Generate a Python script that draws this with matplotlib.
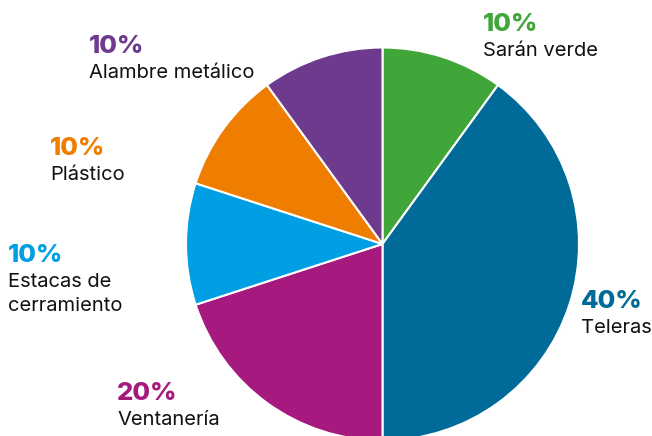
import matplotlib
matplotlib.use("Agg")
import matplotlib.pyplot as plt

labels = ["Sarán verde", "Teleras", "Ventanería", "Estacas de\ncerramiento", "Plástico", "Alambre metálico"]
shares = [10, 40, 20, 10, 10, 10]
colors = ["#41a639", "#006b99", "#a6197f", "#009fe3", "#ef7d00", "#6d3a8e"]

# label anchors in pixels from the top-left corner (left edge, baseline of the percentage)
label_pos = [(483, 31), (581, 308), (117, 400), (8, 262), (50, 155), (89, 53)]

W, H = 652, 436
plt.rcParams['font.family'] = ['Inter', 'DejaVu Sans']

fig = plt.figure(figsize=(W / 100, H / 100), dpi=100)
ax = fig.add_axes([0, 0, 1, 1])

ax.pie(shares, colors=colors, startangle=90, counterclock=False,
       center=(382.5, H - 244), radius=196.5, frame=True,
       wedgeprops=dict(edgecolor='white', linewidth=1.5))
ax.set_xlim(0, W)
ax.set_ylim(0, H)
ax.set_aspect('equal')
ax.axis('off')

for lab, val, col, (x, y) in zip(labels, shares, colors, label_pos):
    ax.text(x, H - y, f"{val}%", color=col, fontsize=18.5, fontweight='heavy', va='baseline', ha='left')
    lines = lab.split("\n")
    for i, line in enumerate(lines):
        ax.text(x, H - y - 25 - 24 * i, line, color='#111111', fontsize=14.5, va='baseline', ha='left')

fig.savefig("out.png", dpi=100)
